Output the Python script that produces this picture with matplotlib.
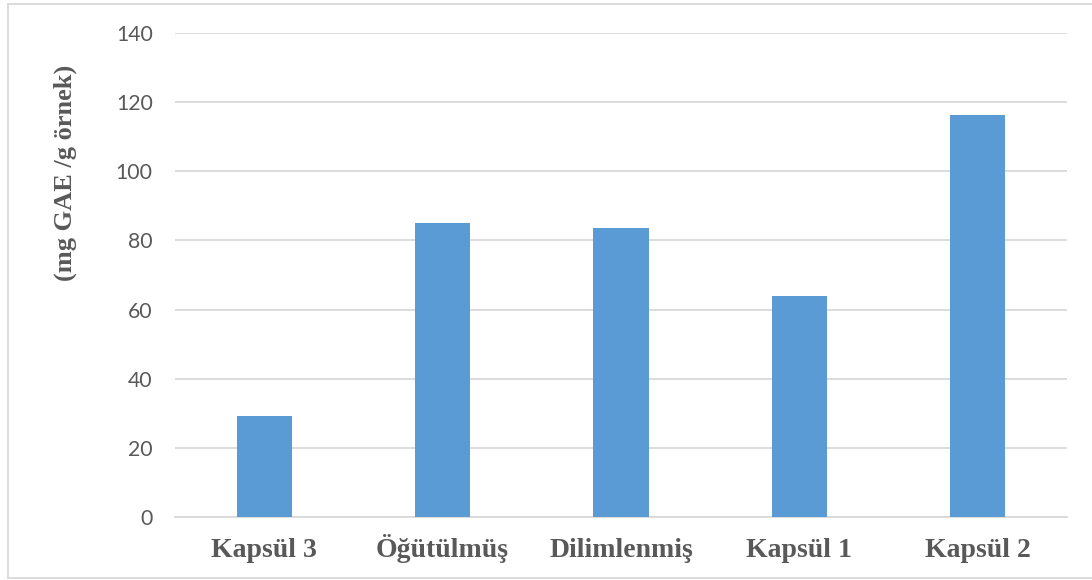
import numpy as np
import matplotlib
matplotlib.use("Agg")
from matplotlib import pyplot as plt
from matplotlib.lines import Line2D

# Total phenolic content per sample
categories = ["Kapsül 3", "Öğütülmüş", "Dilimlenmiş", "Kapsül 1", "Kapsül 2"]
values = [29.2, 85.0, 83.6, 63.9, 116.3]
yticks = [0, 20, 40, 60, 80, 100, 120, 140]

bar_color = "#5B9BD5"
grid_color = "#D9D9D9"
text_color = "#595959"

fig = plt.figure(figsize=(10.92, 5.8), dpi=100)
ax = fig.add_axes([175 / 1092, 1 - 517 / 580, (1067 - 175) / 1092, (517 - 33) / 580])

x = np.arange(len(categories))
ax.bar(x, values, width=0.31, color=bar_color, zorder=3)

ax.set_xlim(-0.5, len(categories) - 0.5)
ax.set_ylim(0, 140)
ax.set_yticks(yticks)
ax.set_yticklabels([str(t) for t in yticks], fontsize=15.3, color=text_color,
                   family=["Lato", "DejaVu Sans"])
ax.set_xticks(x)
ax.set_xticklabels(categories, fontsize=20, fontweight="bold", color=text_color,
                   family=["Liberation Serif", "DejaVu Serif"], va="baseline")
ax.tick_params(axis="y", length=0, pad=16)
ax.tick_params(axis="x", length=0, pad=29)

ax.grid(axis="y", color=grid_color, linewidth=1.3, zorder=0)
for side in ["top", "right", "left"]:
    ax.spines[side].set_visible(False)
ax.spines["bottom"].set_color(grid_color)
ax.spines["bottom"].set_linewidth(1.3)

fig.text(65 / 1092, 1 - 173 / 580, "(mg GAE /g örnek)", rotation=90,
         ha="center", va="center", fontsize=19, fontweight="bold",
         color=text_color, family=["Liberation Serif", "DejaVu Serif"])

# chart frame
x0, x1 = 7.5 / 1092, 1.01
y0, y1 = 1 - 578 / 580, 1 - 3.5 / 580
for xs, ys in [([x0, x1], [y1, y1]), ([x0, x1], [y0, y0]), ([x0, x0], [y0, y1])]:
    fig.add_artist(Line2D(xs, ys, transform=fig.transFigure, color=grid_color, linewidth=1.3))

fig.savefig("out.png", dpi=100)
